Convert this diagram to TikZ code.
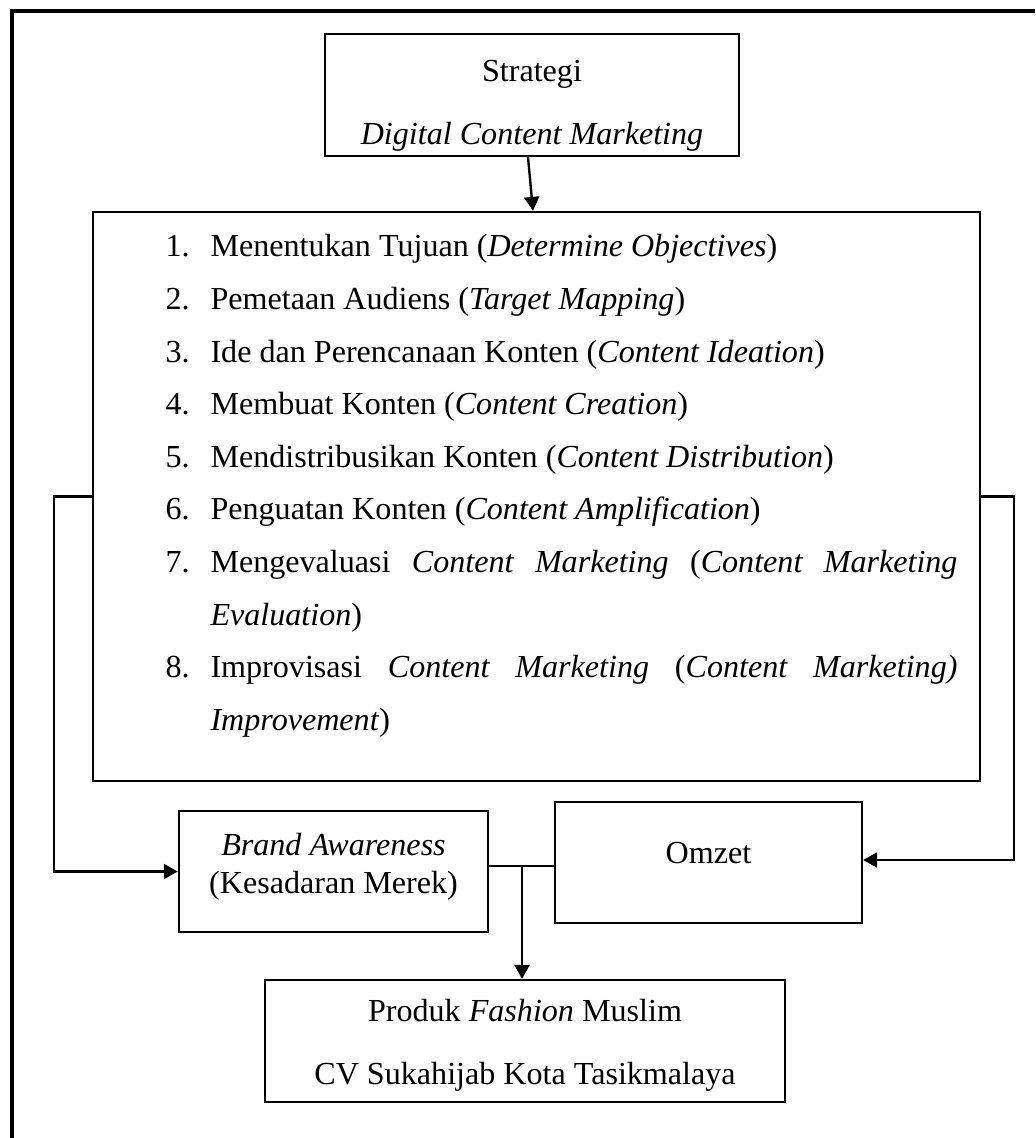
\documentclass[tikz,border=0pt]{standalone}
\usepackage{fontspec}
\setmainfont{Liberation Serif}
\usetikzlibrary{arrows.meta,calc}

\newlength\px
\setlength\px{0.38pt}
\newcommand\stepitem[2]{\hangindent=45\px\hangafter=1\noindent\makebox[45\px][l]{#1}#2\par}

\begin{document}
\begin{tikzpicture}[x=0.38pt, y=-0.38pt,
    every node/.style={font=\fontsize{12.2pt}{14.5pt}\selectfont},
    box/.style={draw, line width=0.9pt, inner sep=0pt, align=center},
    link/.style={line width=0.9pt},
    arrow/.style={link, -{Triangle[length=5.3pt, width=5.7pt]}}]
  \useasboundingbox (0,0) rectangle (1035,1138);
  % outer frame
  \draw[line width=1.3pt] (12,1138) -- (12,11) -- (1035,11);

  % boxes
  \node[box, minimum width=414\px, minimum height=122\px, font=\fontsize{12.2pt}{24pt}\selectfont] (strategi) at (532,95)
    {\rule{0pt}{16pt}Strategi\\\textit{Digital Content Marketing}};
  \node[box, minimum width=887\px, minimum height=569\px] (steps) at (536.5,496.5) {};
  \node[text width=792\px, align=justify, inner sep=0pt, anchor=north west, font=\fontsize{12.2pt}{52.6\px}\selectfont] (steplist) at (165,234) {%
    \tolerance=9999 \hyphenpenalty=10000
    \stepitem{1.}{Menentukan Tujuan (\textit{Determine Objectives})}
    \stepitem{2.}{Pemetaan Audiens (\textit{Target Mapping})}
    \stepitem{3.}{Ide dan Perencanaan Konten (\textit{Content Ideation})}
    \stepitem{4.}{Membuat Konten (\textit{Content Creation})}
    \stepitem{5.}{Mendistribusikan Konten (\textit{Content Distribution})}
    \stepitem{6.}{Penguatan Konten (\textit{Content Amplification})}
    \stepitem{7.}{Mengevaluasi \textit{Content Marketing} (\textit{Content Marketing}\linebreak \textit{Evaluation})}
    \stepitem{8.}{Improvisasi \textit{Content Marketing} (\textit{Content Marketing)}\linebreak \textit{Improvement})}%
  };
  \node[box, minimum width=309\px, minimum height=121\px] (brand) at (333.5,871.5)
    {\textit{Brand Awareness}\\(Kesadaran Merek)\rule[-6.4pt]{0pt}{6.4pt}};
  \node[box, minimum width=307\px, minimum height=121\px, text depth=7.6pt] (omzet) at (708.5,862.5) {Omzet};
  \node[box, minimum width=520\px, minimum height=122\px, font=\fontsize{12.2pt}{24pt}\selectfont] (produk) at (525,1041)
    {\rule{0pt}{12pt}Produk \textit{Fashion} Muslim\\CV Sukahijab Kota Tasikmalaya};

  % connectors
  \draw[arrow] ($(strategi.south)+(-4,0)$) -- ($(steps.north)+(-3.5,0)$);
  \draw[arrow] (steps.west) -- ++(-38,0) |- (brand.west);
  \draw[arrow] (steps.east) -- ++(33,0) |- ($(omzet.east)+(0,-2.5)$);
  \coordinate (join) at (522,866);
  \draw[link] (brand.east |- join) -- (omzet.west |- join);
  \draw[arrow] (join) -- (produk.north -| join);
\end{tikzpicture}
\end{document}
